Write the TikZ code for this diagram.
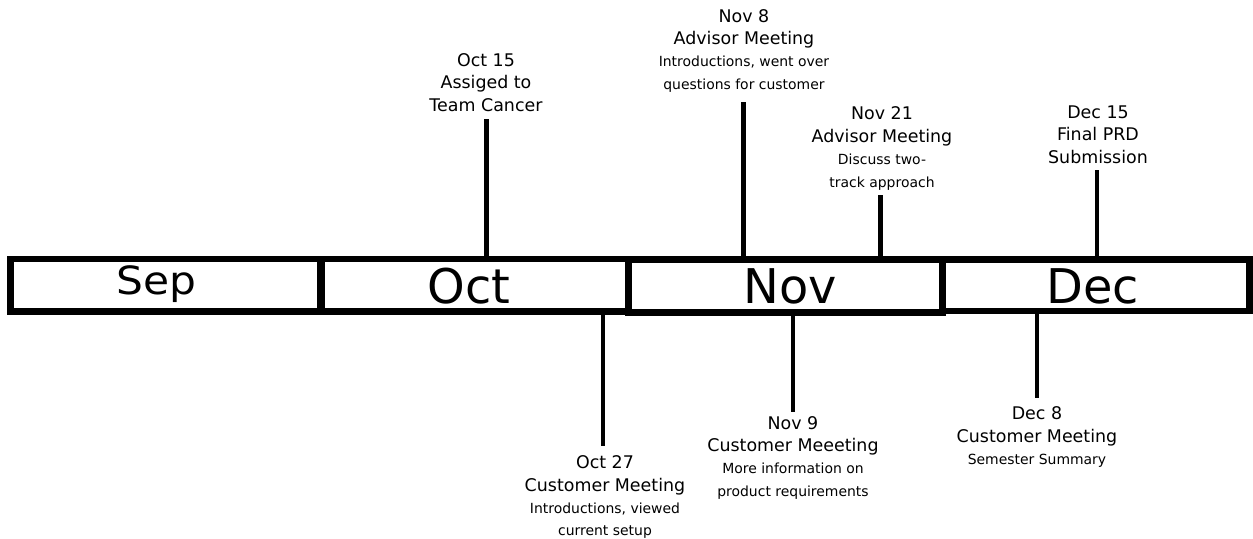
\documentclass[tikz,border=0pt]{standalone}
\usepackage{fontspec}
\setmainfont{DejaVu Sans}
\usepackage{graphicx}
\newcommand\smalltext[1]{{\fontsize{14}{22.5}\selectfont #1}}
\begin{document}
\begin{tikzpicture}[x=1bp,y=-1bp,
  monthbox/.style={draw=black, line width=6.7bp, fill=white, rectangle, inner sep=0pt, outer sep=0pt},
  monthname/.style={anchor=base, inner sep=0pt, font=\fontsize{48}{48}\selectfont},
  eventline/.style={draw=black, line width=4.6bp, line cap=butt},
  event/.style={anchor=north, align=center, inner sep=0pt, font=\fontsize{17.5}{22.5}\selectfont},
]
\useasboundingbox (0,0) rectangle (1253,539);

% event stems (drawn first so the month bar covers their ends)
\coordinate (s-oct15) at (486.5,119);   \coordinate (m-oct15) at (486.5,259);
\coordinate (s-nov8)  at (743.5,101.7); \coordinate (m-nov8)  at (743.5,259);
\coordinate (s-nov21) at (880.5,195);   \coordinate (m-nov21) at (880.5,259);
\coordinate (s-dec15) at (1097,170);    \coordinate (m-dec15) at (1097,259);
\coordinate (s-oct27) at (603,446);     \coordinate (m-oct27) at (603,311);
\coordinate (s-nov9)  at (793,412);     \coordinate (m-nov9)  at (793,311);
\coordinate (s-dec8)  at (1037,398);    \coordinate (m-dec8)  at (1037,311);

\foreach \e in {oct15,nov8,nov21,dec15,oct27,nov9,dec8}
  \draw[eventline] (m-\e) -- (s-\e);

% month bar
\node[monthbox, minimum width=309.3bp, minimum height=52.7bp] (sep) at (165.35,285.35) {};
\node[monthbox, minimum width=306.5bp, minimum height=52.7bp] (oct) at (475.25,285.35) {};
\node[monthbox, minimum width=314bp,   minimum height=53bp]   (nov) at (785.5,286) {};
\node[monthbox, minimum width=307.2bp, minimum height=51.5bp] (dec) at (1096.1,285.25) {};

\node[monthname, font=\fontsize{39}{39}\selectfont] (sep-name) at (156.7,295) {\scalebox{1.09}[1]{Sep}};
\node[monthname] (oct-name) at (469,304) {Oct};
\node[monthname] (nov-name) at (790.5,304) {Nov};
\node[monthname] (dec-name) at (1092.5,303.3) {Dec};

% event labels
\node[event] (oct15) at (486,53.3) {Oct 15\\Assiged to\\Team Cancer};
\node[event] (nov8) at (744,9) {Nov 8\\Advisor Meeting\\\smalltext{Introductions, went over}\\\smalltext{questions for customer}};
\node[event] (nov21) at (882,106.7) {Nov 21\\Advisor Meeting\\\smalltext{Discuss two-}\\\smalltext{track approach}};
\node[event] (dec15) at (1098,105.5) {Dec 15\\Final PRD\\Submission};
\node[event] (oct27) at (605,455.5) {Oct 27\\Customer Meeting\\\smalltext{Introductions, viewed}\\\smalltext{current setup}};
\node[event] (nov9) at (793,416) {Nov 9\\Customer Meeeting\\\smalltext{More information on}\\\smalltext{product requirements}};
\node[event] (dec8) at (1037,406.7) {Dec 8\\Customer Meeting\\\smalltext{Semester Summary}};
\end{tikzpicture}
\end{document}
